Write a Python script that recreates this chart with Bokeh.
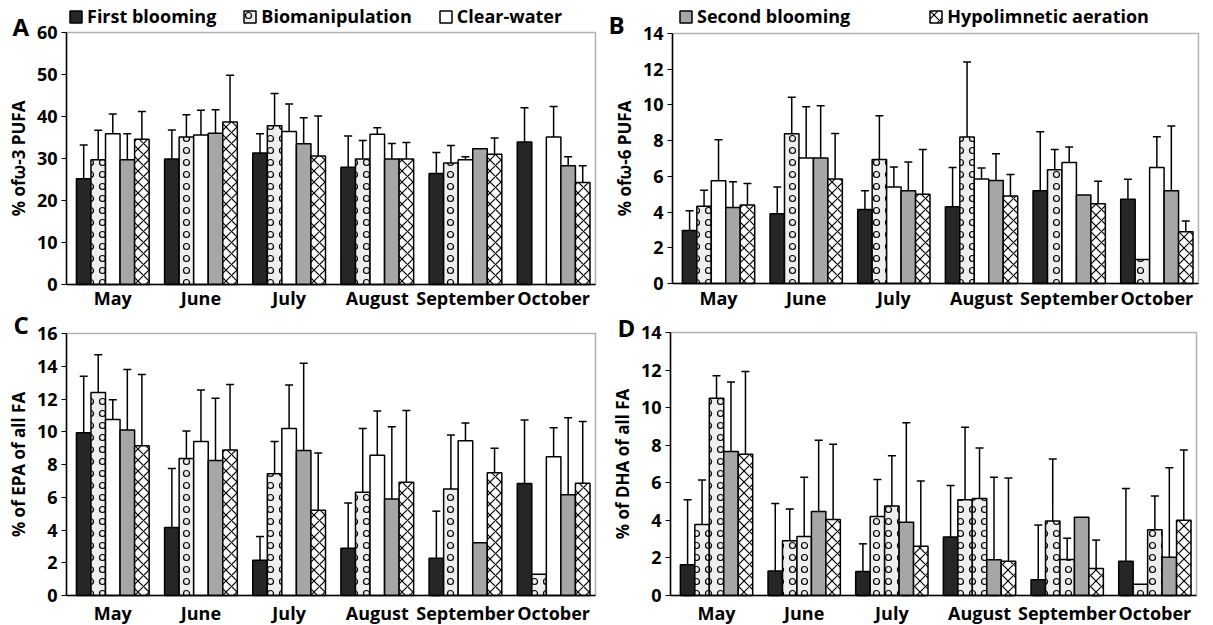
import math
from bokeh.plotting import figure
from bokeh.layouts import column, row
from bokeh.models import (ColumnDataSource, Whisker, Legend, LegendItem, Label, BoxAnnotation,
                          FixedTicker, TeeHead, Range1d)
from bokeh.embed import file_html
from bokeh.resources import INLINE

NaN = float("nan")
months = ["May", "June", "July", "August", "September", "October"]
series = ["First blooming", "Biomanipulation", "Clear-water", "Second blooming", "Hypolimnetic aeration"]

# ---- Panel A: % of w-3 PUFA ----
a_first = [25.2, 29.9, 31.3, 27.9, 26.4, 33.9]
a_first_sd = [8.0, 6.9, 4.6, 7.45, 5.0, 8.2]
a_bio = [29.7, 35.1, 37.8, 29.9, 28.9, NaN]
a_bio_sd = [7.0, 5.3, 7.7, 4.4, 4.2, 0]
a_clear = [35.9, 35.6, 36.4, 35.8, 29.7, 35.1]
a_clear_sd = [4.7, 5.9, 6.6, 1.5, 0.7, 7.3]
a_second = [29.7, 36.0, 33.5, 29.9, 32.3, 28.3]
a_second_sd = [6.2, 5.6, 6.2, 3.7, 0, 2.1]
a_hypo = [34.6, 38.7, 30.6, 29.9, 31.0, 24.3]
a_hypo_sd = [6.6, 11.1, 9.5, 3.9, 3.9, 4.0]

# ---- Panel B: % of w-6 PUFA ----
b_first = [2.97, 3.9, 4.15, 4.3, 5.2, 4.72]
b_first_sd = [1.1, 1.5, 1.05, 2.2, 3.3, 1.12]
b_bio = [4.32, 8.38, 6.95, 8.2, 6.37, 1.35]
b_bio_sd = [0.9, 2.05, 2.45, 4.2, 1.13, 0]
b_clear = [5.75, 7.03, 5.4, 5.85, 6.77, 6.5]
b_clear_sd = [2.3, 2.87, 1.13, 0.62, 0.88, 1.72]
b_second = [4.25, 7.03, 5.2, 5.77, 4.96, 5.2]
b_second_sd = [1.45, 2.92, 1.6, 1.5, 0, 3.62]
b_hypo = [4.4, 5.85, 5.0, 4.9, 4.47, 2.9]
b_hypo_sd = [1.2, 2.55, 2.5, 1.2, 1.25, 0.6]

# ---- Panel C: % of EPA of all FA ----
c_first = [9.94, 4.15, 2.15, 2.88, 2.27, 6.84]
c_first_sd = [3.45, 3.6, 1.45, 2.77, 2.88, 3.87]
c_bio = [12.4, 8.37, 7.43, 6.3, 6.5, 1.3]
c_bio_sd = [2.3, 1.68, 1.97, 3.9, 3.3, 0]
c_clear = [10.75, 9.4, 10.2, 8.57, 9.45, 8.47]
c_clear_sd = [1.2, 3.15, 2.65, 2.7, 1.08, 1.78]
c_second = [10.1, 8.25, 8.86, 5.9, 3.22, 6.16]
c_second_sd = [3.7, 3.8, 5.33, 4.4, 0, 4.7]
c_hypo = [9.15, 8.88, 5.2, 6.92, 7.5, 6.86]
c_hypo_sd = [4.35, 4.0, 3.5, 4.38, 1.5, 3.76]

# ---- Panel D: % of DHA of all FA ----
d_first = [1.64, 1.3, 1.28, 3.12, 0.84, 1.82]
d_first_sd = [3.46, 3.6, 1.47, 2.73, 2.91, 3.88]
d_bio = [3.78, 2.92, 4.2, 5.1, 3.96, 0.6]
d_bio_sd = [2.37, 1.68, 1.97, 3.85, 3.3, 0]
d_clear = [10.5, 3.14, 4.76, 5.17, 1.92, 3.5]
d_clear_sd = [1.2, 3.16, 2.68, 2.68, 1.13, 1.8]
d_second = [7.66, 4.47, 3.9, 1.9, 4.17, 2.03]
d_second_sd = [3.7, 3.8, 5.3, 4.4, 0, 4.77]
d_hypo = [7.52, 4.05, 2.62, 1.82, 1.44, 4.0]
d_hypo_sd = [4.4, 4.0, 3.48, 4.43, 1.51, 3.75]

FONT = "Open Sans"

STYLES = {
    "First blooming": dict(fill_color="#262626"),
    "Biomanipulation": dict(fill_color="#eeeeee", hatch_pattern="ring", hatch_scale=12,
                            hatch_color="black", hatch_weight=1.2),
    "Clear-water": dict(fill_color="white"),
    "Second blooming": dict(fill_color="#a6a6a6"),
    "Hypolimnetic aeration": dict(fill_color="white", hatch_pattern="diagonal_cross", hatch_scale=11,
                                  hatch_color="black", hatch_weight=1.2),
}

BAR_W = 0.165
X0, X1 = -0.525, 5.475


def make_panel(data, ymax, ystep, ylabel, letter, letter_pos, legend_names, legend_pos,
               legend_spacing, W, H, L, R, T, B, month_standoff, style_override=None):
    # plot box [L, R] x [T, B] in canvas pixels (y down); the frame covers the whole canvas
    upx = (X1 - X0) / (R - L)
    upy = ymax / (B - T)
    xs_ = X0 - L * upx
    xe_ = X1 + (W - R) * upx
    ys_ = -(H - B) * upy
    ye_ = ymax + T * upy
    p = figure(width=W, height=H, output_backend="svg", toolbar_location=None,
               x_range=Range1d(xs_, xe_), y_range=Range1d(ys_, ye_),
               min_border_left=0, min_border_right=0, min_border_top=0, min_border_bottom=0)
    p.xgrid.visible = False
    p.ygrid.visible = False
    p.background_fill_color = "white"
    p.border_fill_color = "white"
    p.outline_line_color = None
    p.add_layout(BoxAnnotation(left=X0, right=X1, bottom=0, top=ymax,
                               fill_alpha=0, line_color="black", line_width=1.5))

    renderers = {}
    for j, (name, (vals, sds)) in enumerate(zip(series, data)):
        xs = [i + (j - 2) * BAR_W for i in range(len(months))]
        st = dict(STYLES[name])
        if style_override and name in style_override:
            st = dict(STYLES[style_override[name]])
        src = ColumnDataSource(dict(x=xs, top=vals))
        r = p.vbar(x="x", top="top", width=BAR_W, source=src, line_color="black",
                   line_width=1.5, **st)
        renderers[name] = r
        ex, up, lo = [], [], []
        for x, v, s in zip(xs, vals, sds):
            if s > 0 and not math.isnan(v):
                ex.append(x)
                up.append(v + s)
                lo.append(max(0.0, v - s))
        esrc = ColumnDataSource(dict(x=ex, upper=up, lower=lo))
        w = Whisker(source=esrc, base="x", upper="upper", lower="lower", dimension="height",
                    line_color="black", line_width=1.5,
                    upper_head=TeeHead(size=8, line_width=1.5, line_color="black"),
                    lower_head=TeeHead(size=8, line_width=1.5, line_color="black"))
        p.add_layout(w)

    # axes, pinned to the plot box
    yax = p.yaxis[0]
    yax.fixed_location = X0
    yax.bounds = (0, ymax)
    yax.ticker = FixedTicker(ticks=list(range(0, ymax + 1, ystep)))
    yax.minor_tick_line_color = None
    yax.major_tick_out = 5
    yax.major_tick_in = 0
    yax.major_label_text_font = FONT
    yax.major_label_text_font_style = "bold"
    yax.major_label_text_font_size = "18px"
    yax.major_label_text_color = "black"
    yax.major_label_standoff = 4
    yax.axis_label = ylabel
    yax.axis_label_text_font = FONT
    yax.axis_label_text_font_style = "bold"
    yax.axis_label_text_font_size = "17px"
    yax.axis_label_text_color = "black"
    yax.axis_label_standoff = 4
    yax.axis_line_color = "black"
    yax.axis_line_width = 1.5

    xax = p.xaxis[0]
    xax.fixed_location = 0
    xax.bounds = (X0, X1)
    xax.ticker = FixedTicker(ticks=list(range(len(months))))
    xax.major_label_overrides = {i: m for i, m in enumerate(months)}
    xax.major_tick_out = 0
    xax.major_tick_in = 0
    xax.minor_tick_line_color = None
    xax.major_label_text_font = FONT
    xax.major_label_text_font_style = "bold"
    xax.major_label_text_font_size = "18px"
    xax.major_label_text_color = "black"
    xax.major_label_standoff = month_standoff
    xax.axis_line_color = "black"
    xax.axis_line_width = 1.5

    lx, lb = letter_pos  # canvas px
    p.add_layout(Label(x=xs_ + lx * upx, y=ye_ - lb * upy, text=letter,
                       text_font=FONT, text_font_style="bold", text_font_size="24px",
                       text_baseline="alphabetic", text_align="left", text_color="black"))

    if legend_names:
        gx, gb = legend_pos  # canvas px: left edge, bottom edge
        items = [LegendItem(label=n, renderers=[renderers[n]]) for n in legend_names]
        lg = Legend(items=items, orientation="horizontal", location=(gx, H - gb),
                    spacing=legend_spacing, glyph_width=15, glyph_height=15, label_standoff=4,
                    padding=0, margin=0, border_line_alpha=0, background_fill_alpha=0,
                    label_text_font=FONT, label_text_font_style="bold", label_text_color="black",
                    label_text_font_size="18px", label_height=20)
        p.add_layout(lg)
    return p


TOP_H = 311
BOT_H = 625 - TOP_H

pA = make_panel([(a_first, a_first_sd), (a_bio, a_bio_sd), (a_clear, a_clear_sd),
                 (a_second, a_second_sd), (a_hypo, a_hypo_sd)],
                60, 10, "% of\u03c9-3 PUFA", "A", (12, 26),
                ["First blooming", "Biomanipulation", "Clear-water"], (68, 28), 26,
                606, TOP_H, 66, 595, 32, 284, 1)
pB = make_panel([(b_first, b_first_sd), (b_bio, b_bio_sd), (b_clear, b_clear_sd),
                 (b_second, b_second_sd), (b_hypo, b_hypo_sd)],
                14, 2, "% of\u03c9-6 PUFA", "B", (2, 24),
                ["Second blooming", "Hypolimnetic aeration"], (72, 28), 78,
                607, TOP_H, 66, 592, 33, 283, 2)
pC = make_panel([(c_first, c_first_sd), (c_bio, c_bio_sd), (c_clear, c_clear_sd),
                 (c_second, c_second_sd), (c_hypo, c_hypo_sd)],
                16, 2, "% of EPA of all FA", "C", (13, 13), None, None, 0,
                606, BOT_H, 66, 595, 333 - TOP_H, 595 - TOP_H, 5)
pD = make_panel([(d_first, d_first_sd), (d_bio, d_bio_sd), (d_clear, d_clear_sd),
                 (d_second, d_second_sd), (d_hypo, d_hypo_sd)],
                14, 2, "% of DHA of all FA", "D", (11, 16), None, None, 0,
                607, BOT_H, 64, 590, 332 - TOP_H, 595 - TOP_H, 5,
                style_override={"Clear-water": "Biomanipulation"})

layout = column(row(pA, pB, spacing=0), row(pC, pD, spacing=0), spacing=0)
open("out.html", "w").write(file_html(layout, INLINE))
